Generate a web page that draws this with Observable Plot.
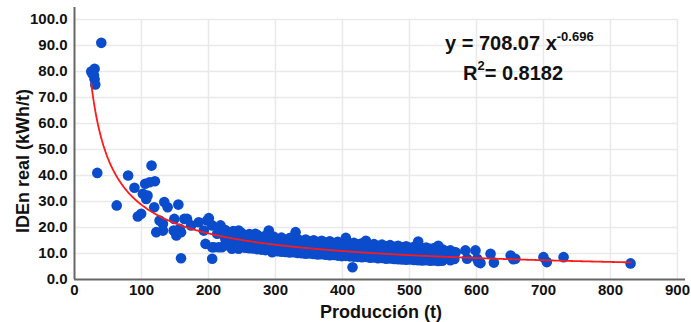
<!DOCTYPE html>
<html>
<head>
<meta charset="utf-8">
<script src="https://cdn.jsdelivr.net/npm/d3@7"></script>
<script src="https://cdn.jsdelivr.net/npm/@observablehq/plot@0.6"></script>
<style>
  html, body { margin: 0; padding: 0; background: #fff; }
  #chart { width: 691px; height: 322px; }
</style>
</head>
<body>
<div id="chart"></div>
<script>
// ---- Data ----
const xTicks = [0, 100, 200, 300, 400, 500, 600, 700, 800, 900];
const yTicks = [0, 10, 20, 30, 40, 50, 60, 70, 80, 90, 100];

const xTitle = "Producción (t)";
const yTitle = "IDEn real (kWh/t)";

// Power trend line reported on the chart: y = 708.07 x^-0.696, R² = 0.8182
const coefA = 708.07;
const coefB = -0.696;
const r2 = 0.8182;
const trendRange = [25, 830];

// [Producción (t), IDEn real (kWh/t)]
const puntosBajaProduccion = [
  [25, 80], [27, 79], [30, 81], [30, 77], [31, 75], [29, 78.5], [40, 91],
  [34, 41], [63, 28.5], [80, 40], [89.5, 35.3], [94.5, 24.2], [99.5, 25.3],
  [102, 33], [105.5, 36.8], [107, 31], [109, 32.3], [112, 37.4], [115, 43.8],
  [119, 27.8], [120, 37.8], [122, 18.2], [127, 22.7], [132, 21.4], [132, 18.8],
  [134, 29.8], [139, 27.8], [149, 23.3], [148, 18.8], [152, 16.9], [155, 28.8],
  [157, 19.5], [159, 18.2], [159, 8.2], [164, 23.3], [168, 23.3], [174, 20.8],
  [185.5, 22], [193, 18.8], [195.5, 13.7], [198, 22.7], [200.5, 23.6],
  [205.5, 20.8], [205.5, 12.4], [205.5, 8], [208, 12.4], [213, 17.6],
  [215, 12.4], [218, 20.8], [220, 12.4]
];

const puntosBanda = [
  [230, 17.6], [233, 13.7], [235, 11.8], [238, 16.3], [240, 14.3], [245, 18.8],
  [245, 11.8], [253, 15.6], [255, 12.4], [258, 14.3], [265, 13.7], [268, 15],
  [270, 17.6], [280, 11.8], [285, 15], [290, 18.8], [295, 10.5], [302.5, 15.6],
  [305, 11.2], [315, 14.3], [325, 11.8], [330, 18.2], [340, 13.1],
  [225, 19.0], [225, 15.8], [225, 13.6],
  [231, 17.9], [231, 14.7], [231, 12.9],
  [237, 18.6], [237, 16.2], [237, 13.1],
  [243, 17.2], [243, 14.1], [243, 12.6],
  [249, 18.0], [249, 15.6], [249, 12.9],
  [255, 16.9], [255, 13.8], [255, 12.2],
  [261, 17.5], [261, 14.9], [261, 12.0],
  [267, 16.4], [267, 13.6], [267, 11.9],
  [273, 17.1], [273, 14.5], [273, 11.7],
  [279, 16.2], [279, 13.2], [279, 11.5],
  [285, 16.8], [285, 14.0], [285, 11.3],
  [291, 15.9], [291, 12.9], [291, 11.4],
  [297, 16.5], [297, 13.7], [297, 11.0],
  [303, 15.6], [303, 12.6], [303, 10.9],
  [309, 16.1], [309, 13.4], [309, 10.7],
  [315, 15.3], [315, 12.3], [315, 10.6],
  [321, 15.9], [321, 13.1], [321, 10.4],
  [327, 15.0], [327, 12.0], [327, 10.5],
  [333, 15.6], [333, 12.8], [333, 10.2],
  [339, 14.8], [339, 11.9], [339, 10.1],
  [345, 15.4], [345, 12.6], [345, 9.9],
  [351, 14.6], [351, 11.7], [351, 10.0],
  [357, 15.1], [357, 12.4], [357, 9.8],
  [363, 14.4], [363, 11.5], [363, 9.6],
  [369, 14.9], [369, 12.2], [369, 9.7],
  [375, 14.2], [375, 11.3], [375, 9.5],
  [381, 14.7], [381, 12.0], [381, 9.3],
  [387, 14.0], [387, 11.1], [387, 9.4],
  [393, 14.5], [393, 11.8], [393, 9.2],
  [399, 13.8], [399, 11.0], [399, 9.0],
  [405, 16.0], [405, 11.6], [405, 9.1],
  [411, 13.6], [411, 10.7], [411, 8.9],
  [415, 4.7],
  [417, 14.1], [417, 11.4], [417, 8.8],
  [423, 13.5], [423, 10.5], [423, 8.7],
  [429, 13.9], [429, 11.2], [429, 8.6],
  [435, 14.9], [435, 10.3], [435, 8.7],
  [441, 13.2], [441, 11.0], [441, 8.4],
  [447, 13.6], [447, 10.1], [447, 8.5],
  [453, 13.0], [453, 10.8], [453, 8.2],
  [459, 13.4], [459, 9.9], [459, 8.3],
  [465, 12.8], [465, 10.6], [465, 8.0],
  [471, 13.2], [471, 9.7], [471, 8.1],
  [477, 12.6], [477, 10.4], [477, 7.9],
  [483, 13.0], [483, 9.5], [483, 7.8],
  [489, 12.4], [489, 10.2], [489, 7.7],
  [495, 12.8], [495, 9.3], [495, 7.6],
  [501, 12.2], [501, 10.0], [501, 7.7],
  [507, 12.6], [507, 9.2], [507, 7.5],
  [513, 14.6], [513, 9.9], [513, 7.4],
  [519, 12.0], [519, 9.0], [519, 7.3],
  [525, 12.3], [525, 9.7], [525, 7.4],
  [531, 11.8], [531, 8.9], [531, 7.2],
  [537, 12.1], [537, 9.5], [537, 7.3],
  [543, 13.0], [543, 8.8], [543, 7.1],
  [549, 11.6], [549, 9.3], [549, 7.2],
  [555, 10.9], [555, 8.6],
  [561, 11.2], [561, 9.0], [561, 7.4],
  [567, 10.5], [567, 7.9]
];

const puntosAltaProduccion = [
  [569, 10.5], [583.5, 11.2], [586, 8], [598.5, 11.2], [601, 8], [603, 6.7],
  [606, 6.3], [621, 9.9], [626, 6.5], [651, 9.2], [655, 7.8], [658, 8],
  [700, 8.6], [705, 6.7], [730, 8.6], [830, 6.2]
];

// ---- Build ----
const puntos = [...puntosBajaProduccion, ...puntosBanda, ...puntosAltaProduccion]
  .map(([x, y]) => ({x, y}));
const tendencia = d3.range(trendRange[0], trendRange[1] + 0.01, 1)
  .map(x => ({x, y: coefA * Math.pow(x, coefB)}));

const font = "'Liberation Sans', Arial, Helvetica, sans-serif";

const chart = Plot.plot({
  width: 691,
  height: 322,
  marginLeft: 74,
  marginRight: 6,
  marginTop: 7,
  marginBottom: 43,
  style: {fontFamily: font, fontSize: "15px", fontWeight: "bold", color: "#111", background: "#fff", overflow: "visible"},
  x: {domain: [0, 912]},
  y: {domain: [0, 104.6]},
  marks: [
    Plot.ruleX(xTicks.filter(d => d > 0), {y1: 0, y2: 100, stroke: "#e9e9e9", strokeWidth: 1.5}),
    Plot.ruleY(yTicks.filter(d => d > 0), {x1: 0, x2: 900, stroke: "#e9e9e9", strokeWidth: 1.5}),
    Plot.axisX({ticks: xTicks, tickSize: 0, tickPadding: 5, tickFormat: d => String(d), label: null, fontSize: 15, fontWeight: "bold"}),
    Plot.axisY({ticks: yTicks, tickSize: 0, tickPadding: 7, tickFormat: d3.format(".1f"), label: null, fontSize: 15, fontWeight: "bold"}),
    Plot.dot(puntos, {x: "x", y: "y", r: 5.3, fill: "#0b4ccc", stroke: "none"}),
    Plot.line(tendencia, {x: "x", y: "y", stroke: "#ff1a1a", strokeWidth: 1.8}),
    Plot.ruleX([0], {stroke: "#666", strokeWidth: 2}),
    Plot.ruleY([0], {stroke: "#666", strokeWidth: 2})
  ]
});

const svg = d3.select(chart);

// axis titles
svg.append("text")
  .attr("x", 381).attr("y", 318)
  .attr("text-anchor", "middle")
  .attr("font-family", font).attr("font-weight", "bold").attr("font-size", 18)
  .attr("fill", "#111")
  .text(xTitle);

svg.append("text")
  .attr("transform", "translate(23,161) rotate(-90)")
  .attr("text-anchor", "middle")
  .attr("dominant-baseline", "central")
  .attr("font-family", font).attr("font-weight", "bold").attr("font-size", 18)
  .attr("fill", "#111")
  .text(yTitle);

// equation annotation
const eq = svg.append("text")
  .attr("x", 445).attr("y", 50)
  .attr("text-anchor", "start")
  .attr("font-family", font).attr("font-weight", "bold").attr("font-size", 20)
  .attr("fill", "#111");
eq.append("tspan").text(`y = ${coefA.toFixed(2)} x`);
eq.append("tspan").attr("font-size", 13).attr("dy", -9).text(`${coefB}`);

const rr = svg.append("text")
  .attr("x", 463).attr("y", 80)
  .attr("text-anchor", "start")
  .attr("font-family", font).attr("font-weight", "bold").attr("font-size", 20)
  .attr("fill", "#111");
rr.append("tspan").text("R");
rr.append("tspan").attr("font-size", 13).attr("dy", -10).text("2");
rr.append("tspan").attr("dy", 10).text(`= ${r2}`);

document.getElementById("chart").appendChild(chart);
</script>
</body>
</html>
